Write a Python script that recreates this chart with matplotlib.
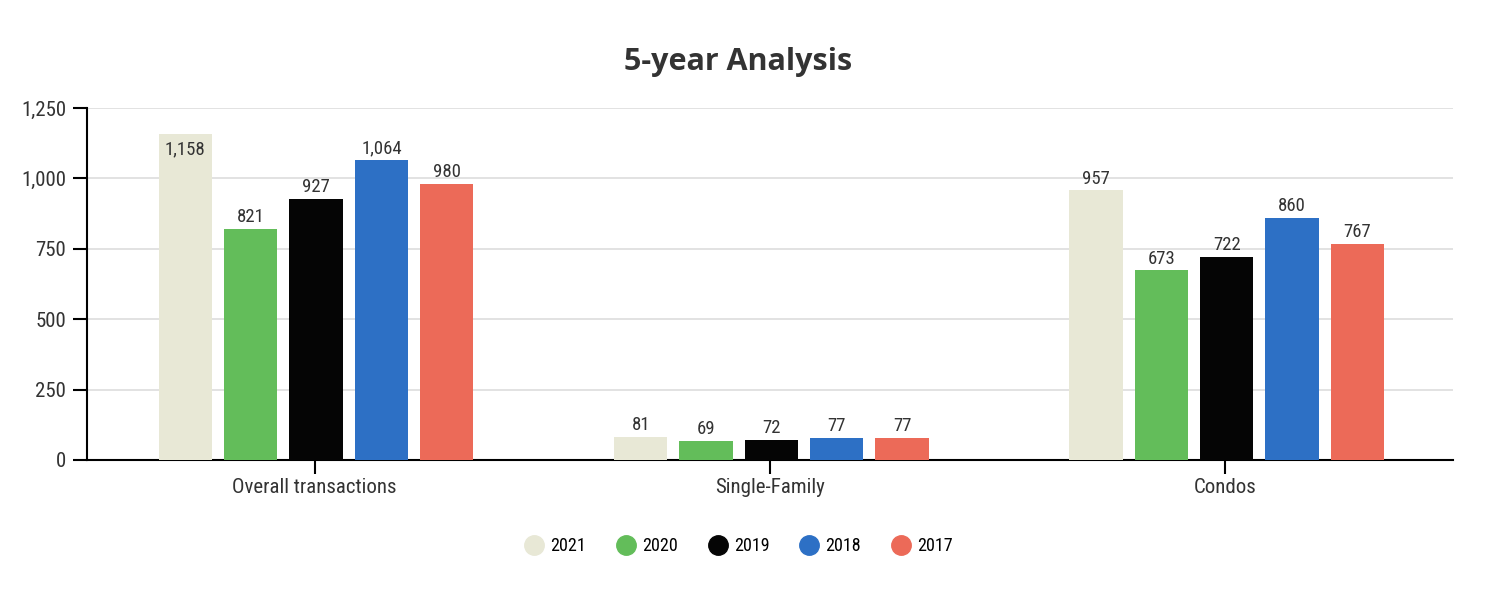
import numpy as np
from matplotlib import pyplot as plt
from matplotlib.lines import Line2D

plt.rcParams['font.family'] = ['Roboto Condensed', 'Roboto', 'DejaVu Sans']

categories = ['Overall transactions', 'Single-Family', 'Condos']
years = ['2021', '2020', '2019', '2018', '2017']
values = {
    '2021': [1158, 81, 957],
    '2020': [821, 69, 673],
    '2019': [927, 72, 722],
    '2018': [1064, 77, 860],
    '2017': [980, 77, 767],
}
colors = ['#e8e8d6', '#63bd5a', '#050505', '#2d70c5', '#ec6a58']

fig = plt.figure(figsize=(15, 5.92), dpi=100)
ax = fig.add_axes([0.058, 0.223, 0.9107, 0.5946])

x = np.arange(len(categories))
width = 0.117
step = 0.1435
ymax = 1250

for i, yr in enumerate(years):
    pos = x + (i - 2) * step + 0.003
    bars = ax.bar(pos, values[yr], width, color=colors[i], zorder=3)
    for b, v in zip(bars, values[yr]):
        txt = f'{v:,}'
        if v > ymax * 0.9:
            # no room above the bar, put the label inside
            ax.text(b.get_x() + width / 2, v - 24, txt, ha='center', va='top',
                    fontsize=13.5, color='#333333', zorder=4)
        else:
            ax.text(b.get_x() + width / 2, v + 10, txt, ha='center', va='bottom',
                    fontsize=13.5, color='#333333', zorder=4)

ax.set_xlim(-0.5, 2.5)
ax.set_ylim(0, ymax)
ax.set_yticks([0, 250, 500, 750, 1000, 1250])
ax.set_yticklabels(['0', '250', '500', '750', '1,000', '1,250'])
ax.set_xticks(x)
ax.set_xticklabels(categories)
ax.tick_params(axis='both', labelsize=15, labelcolor='#333333', color='black',
               length=10, width=1.5)
ax.tick_params(axis='x', pad=3)
ax.tick_params(axis='y', pad=5)
ax.grid(axis='y', color='#dddddd', linewidth=1.2, zorder=0)
for s in ['top', 'right']:
    ax.spines[s].set_visible(False)
ax.spines['left'].set_linewidth(1.5)
ax.spines['bottom'].set_linewidth(1.5)

fig.suptitle('5-year Analysis', x=0.492, y=0.92, fontsize=22, fontweight='bold',
             color='#333333', family=['Open Sans', 'DejaVu Sans'])

handles = [Line2D([0], [0], marker='o', linestyle='', markersize=14,
                  markerfacecolor=c, markeredgecolor=c) for c in colors]
fig.legend(handles, years, loc='center', bbox_to_anchor=(0.492, 0.077), ncol=5,
           frameon=False, fontsize=13, handletextpad=0.3, columnspacing=1.6,
           handlelength=1.2)

fig.savefig('out.png', dpi=100)
